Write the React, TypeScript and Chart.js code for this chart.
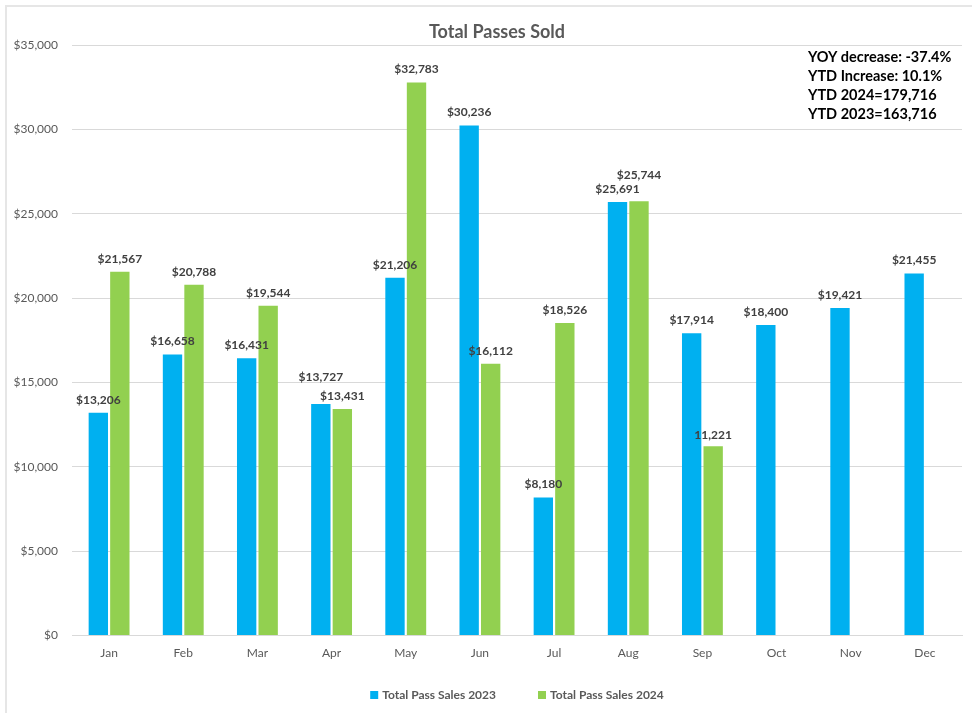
import React, { useEffect, useRef } from "react";
import { Chart, registerables } from "chart.js";

Chart.register(...registerables);

const MONTHS = ["Jan", "Feb", "Mar", "Apr", "May", "Jun", "Jul", "Aug", "Sep", "Oct", "Nov", "Dec"];
const SALES_2023 = [13206, 16658, 16431, 13727, 21206, 30236, 8180, 25691, 17914, 18400, 19421, 21455];
const SALES_2024 = [21567, 20788, 19544, 13431, 32783, 16112, 18526, 25744, 11221, null, null, null];
const SERIES_NAMES = ["Total Pass Sales 2023", "Total Pass Sales 2024"];
const SERIES_COLORS = ["#00B0F0", "#92D050"];
const NO_CURRENCY_2024 = [8];
const NOTES = ["YOY decrease: -37.4%", "YTD Increase: 10.1%", "YTD 2024=179,716", "YTD 2023=163,716"];
const TITLE = "Total Passes Sold";
const Y_MAX = 35000;
const Y_STEP = 5000;

const FONT = "Lato, 'Open Sans', sans-serif";

const fmt = (v: number, currency: boolean) =>
  (currency ? "$" : "") + v.toLocaleString("en-US");

const dataLabelPlugin = {
  id: "dataLabels",
  afterDatasetsDraw(chart: any, _args: any, opts: any) {
    const ctx = chart.ctx;
    ctx.save();
    ctx.font = `bold 12px ${FONT}`;
    ctx.fillStyle = "#404040";
    ctx.textAlign = "center";
    ctx.textBaseline = "middle";
    chart.data.datasets.forEach((ds: any, di: number) => {
      const meta = chart.getDatasetMeta(di);
      meta.data.forEach((el: any, i: number) => {
        const v = ds.data[i];
        if (v == null) return;
        const currency = !(di === 1 && NO_CURRENCY_2024.includes(i));
        const lift = (opts.lift && opts.lift[di] && opts.lift[di][i]) || 13;
        ctx.fillText(fmt(v, currency), el.x, el.y - lift);
      });
    });
    ctx.restore();
  },
};

const textPlugin = {
  id: "texts",
  afterDraw(chart: any, _args: any, opts: any) {
    const ctx = chart.ctx;
    ctx.save();
    // title
    ctx.font = `bold 18px ${FONT}`;
    ctx.fillStyle = "#595959";
    ctx.textAlign = "center";
    ctx.textBaseline = "middle";
    ctx.fillText(TITLE, opts.titleX, opts.titleY);
    // notes
    ctx.font = `bold 14.5px ${FONT}`;
    ctx.fillStyle = "#000000";
    ctx.textAlign = "left";
    NOTES.forEach((t, i) => {
      ctx.fillText(t, opts.notesX, opts.notesY + i * opts.lineHeight);
    });
    ctx.restore();
  },
};

const legendPlugin = {
  id: "customLegend",
  afterDraw(chart: any, _args: any, opts: any) {
    const ctx = chart.ctx;
    ctx.save();
    ctx.font = `bold 12px ${FONT}`;
    ctx.textBaseline = "middle";
    ctx.textAlign = "left";
    const box = 8;
    const gap = 4;
    const spacing = 42;
    const items = chart.data.datasets.map((ds: any) => ({
      text: ds.label,
      color: ds.backgroundColor,
      w: box + gap + ctx.measureText(ds.label).width,
    }));
    const total = items.reduce((a: number, it: any) => a + it.w, 0) + spacing * (items.length - 1);
    const cx = (chart.chartArea.left + chart.chartArea.right) / 2;
    let x = cx - total / 2;
    const y = opts.y;
    items.forEach((it: any) => {
      ctx.fillStyle = it.color;
      ctx.fillRect(x, y - box / 2, box, box);
      ctx.fillStyle = "#595959";
      ctx.fillText(it.text, x + box + gap, y);
      x += it.w + spacing;
    });
    ctx.restore();
  },
};

export default function App() {
  const ref = useRef<HTMLCanvasElement>(null);

  useEffect(() => {
    if (!ref.current) return;
    const chart = new Chart(ref.current, {
      type: "bar",
      data: {
        labels: MONTHS,
        datasets: [
          {
            label: SERIES_NAMES[0],
            data: SALES_2023,
            backgroundColor: SERIES_COLORS[0],
            barPercentage: 0.9,
            categoryPercentage: 0.58,
          },
          {
            label: SERIES_NAMES[1],
            data: SALES_2024,
            backgroundColor: SERIES_COLORS[1],
            barPercentage: 0.9,
            categoryPercentage: 0.58,
          },
        ],
      },
      plugins: [dataLabelPlugin, textPlugin, legendPlugin],
      options: {
        animation: false,
        responsive: false,
        maintainAspectRatio: false,
        layout: { padding: { left: 8, right: 10, top: 45, bottom: 43 } },
        plugins: {
          title: { display: false },
          legend: { display: false },
          tooltip: { enabled: false },
          dataLabels: {
            lift: [
              [13, 13, 13, 27, 13, 13, 13, 13, 13, 13, 13, 13],
              [13, 13, 13, 13, 13, 13, 13, 26, 11, 13, 13, 13],
            ],
          },
          texts: { titleX: 497, titleY: 32, notesX: 808, notesY: 57, lineHeight: 19 },
          customLegend: { y: 695 },
        } as any,
        scales: {
          x: {
            grid: { display: false, drawTicks: false },
            border: { display: true, color: "#d9d9d9" },
            ticks: {
              color: "#595959",
              font: { family: FONT, size: 12 },
              padding: 10,
            },
          },
          y: {
            min: 0,
            max: Y_MAX,
            grid: { color: "#d9d9d9", drawTicks: false },
            border: { display: false },
            ticks: {
              stepSize: Y_STEP,
              color: "#595959",
              font: { family: FONT, size: 12 },
              padding: 14,
              callback: (v: any) => "$" + Number(v).toLocaleString("en-US"),
            },
            afterFit: (s: any) => {
              s.width = 64;
            },
          },
        },
      },
    });
    return () => chart.destroy();
  }, []);

  return (
    <div
      style={{
        position: "fixed",
        left: 0,
        top: 0,
        width: 972,
        height: 713,
        background: "#fff",
        overflow: "hidden",
      }}
    >
      <div
        style={{
          position: "absolute",
          left: 5,
          top: 5,
          width: 1000,
          height: 800,
          borderLeft: "2px solid #e6e6e6",
          borderTop: "2px solid #e6e6e6",
        }}
      />
      <canvas ref={ref} width={972} height={713} style={{ position: "absolute", left: 0, top: 0 }} />
    </div>
  );
}
